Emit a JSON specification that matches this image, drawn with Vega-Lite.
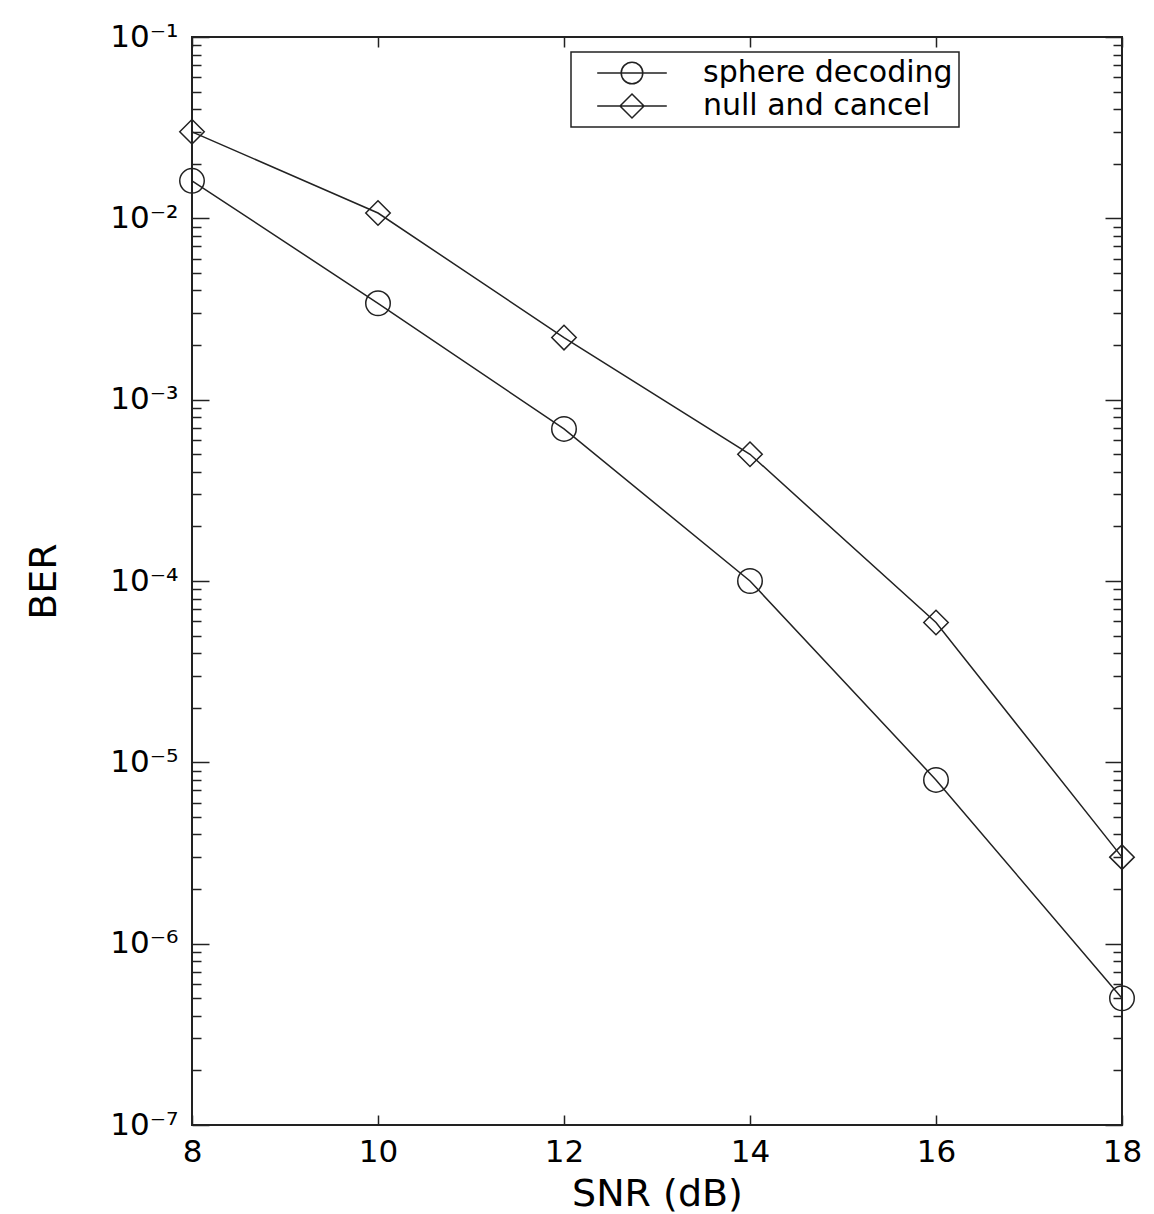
{
  "$schema": "https://vega.github.io/schema/vega-lite/v6.json",
  "autosize": {"type": "none"},
  "width": 930,
  "height": 1088,
  "padding": {"left": 192, "top": 37, "right": 32, "bottom": 89},
  "background": "white",
  "config": {
    "font": "DejaVu Sans",
    "view": {"stroke": "#222222", "strokeWidth": 2},
    "legend": {"strokeWidth": 1.5},
    "axis": {"labelColor": "black", "titleColor": "black", "tickColor": "#222222", "tickWidth": 1.5, "grid": false, "labelFont": "DejaVu Sans", "titleFont": "DejaVu Sans", "titleFontWeight": "normal", "labelFlush": false, "labelOverlap": false}
  },
  "data": {
    "values": [
      {"snr": 8, "ber": 0.0161, "series": "sphere decoding"},
      {"snr": 10, "ber": 0.0034, "series": "sphere decoding"},
      {"snr": 12, "ber": 0.00069, "series": "sphere decoding"},
      {"snr": 14, "ber": 0.0001, "series": "sphere decoding"},
      {"snr": 16, "ber": 0.000008, "series": "sphere decoding"},
      {"snr": 18, "ber": 0.0000005, "series": "sphere decoding"},
      {"snr": 8, "ber": 0.030, "series": "null and cancel"},
      {"snr": 10, "ber": 0.0107, "series": "null and cancel"},
      {"snr": 12, "ber": 0.0022, "series": "null and cancel"},
      {"snr": 14, "ber": 0.0005, "series": "null and cancel"},
      {"snr": 16, "ber": 0.000059, "series": "null and cancel"},
      {"snr": 18, "ber": 0.000003, "series": "null and cancel"}
    ]
  },
  "resolve": {
    "scale": {"shape": "independent"},
    "legend": {"shape": "independent"},
    "axis": {"x": "independent", "y": "independent"}
  },
  "layer": [
    {
      "mark": {"type": "line", "color": "#222222", "strokeWidth": 1.5},
      "encoding": {
        "x": {"field": "snr", "type": "quantitative", "scale": {"domain": [8, 18], "nice": false, "zero": false},
          "axis": {"orient": "bottom", "values": [8, 10, 12, 14, 16, 18], "ticks": false, "domain": false, "labelFontSize": 31, "labelPadding": 12, "title": "SNR (dB)", "titleFontSize": 38, "titlePadding": 8}},
        "y": {"field": "ber", "type": "quantitative", "scale": {"type": "log", "domain": [1e-7, 0.1], "nice": false, "zero": false},
          "axis": {"orient": "left", "values": [1e-7, 1e-6, 1e-5, 1e-4, 1e-3, 1e-2, 1e-1], "ticks": false, "domain": false, "labelFontSize": 31, "labelPadding": 14,
            "labelExpr": "'10' + ['⁻⁷','⁻⁶','⁻⁵','⁻⁴','⁻³','⁻²','⁻¹'][round(log(datum.value)/LN10) + 7]",
            "title": "BER", "titleFontSize": 38, "titlePadding": 46}},
        "detail": {"field": "series"}
      }
    },
    {
      "mark": {"type": "point", "filled": false, "stroke": "#222222", "strokeWidth": 1.5, "size": 600, "opacity": 1},
      "encoding": {
        "x": {"field": "snr", "type": "quantitative",
          "axis": {"orient": "bottom", "values": [8, 10, 12, 14, 16, 18], "offset": -10, "tickSize": 10, "labels": false, "domain": false, "title": null}},
        "y": {"field": "ber", "type": "quantitative",
          "axis": {"orient": "left", "values": [1e-7, 1e-6, 1e-5, 1e-4, 1e-3, 1e-2, 1e-1], "offset": -17, "tickSize": 17, "labels": false, "domain": false, "title": null}},
        "shape": {"field": "series", "type": "nominal", "scale": {"domain": ["sphere decoding", "null and cancel"], "range": ["circle", "diamond"]}, "legend": null}
      }
    },
    {
      "mark": {"type": "point", "filled": false, "stroke": "#222222", "strokeWidth": 1.5, "opacity": 0},
      "encoding": {
        "x": {"field": "snr", "type": "quantitative",
          "axis": {"orient": "top", "values": [8, 10, 12, 14, 16, 18], "offset": -10, "tickSize": 10, "labels": false, "domain": false, "title": null}},
        "y": {"field": "ber", "type": "quantitative",
          "axis": {"orient": "left", "values": [2e-7,3e-7,4e-7,5e-7,6e-7,7e-7,8e-7,9e-7,2e-6,3e-6,4e-6,5e-6,6e-6,7e-6,8e-6,9e-6,2e-5,3e-5,4e-5,5e-5,6e-5,7e-5,8e-5,9e-5,2e-4,3e-4,4e-4,5e-4,6e-4,7e-4,8e-4,9e-4,2e-3,3e-3,4e-3,5e-3,6e-3,7e-3,8e-3,9e-3,2e-2,3e-2,4e-2,5e-2,6e-2,7e-2,8e-2,9e-2], "offset": -9, "tickSize": 9, "labels": false, "domain": false, "title": null}},
        "shape": {"field": "series", "type": "nominal",
          "scale": {"domain": ["sphere decoding", "null and cancel"], "range": ["M-2.9,0L2.9,0M-0.9,0A0.9,0.9,0,1,1,0.9,0A0.9,0.9,0,1,1,-0.9,0Z", "M-2.9,0L2.9,0M-1,0L0,-1L1,0L0,1Z"]},
          "legend": {"title": null, "orient": "none", "legendX": 379, "legendY": 15, "strokeColor": "#222222", "padding": 6, "symbolSize": 576, "symbolOffset": 40, "labelOffset": 56, "symbolOpacity": 1, "symbolStrokeColor": "#222222", "symbolFillColor": "transparent", "symbolStrokeWidth": 1.5, "labelFontSize": 30, "labelFont": "DejaVu Sans", "labelColor": "black", "rowPadding": 3, "labelLimit": 600}}
      }
    },
    {
      "mark": {"type": "point", "opacity": 0},
      "encoding": {
        "x": {"field": "snr", "type": "quantitative", "axis": null},
        "y": {"field": "ber", "type": "quantitative",
          "axis": {"orient": "right", "values": [1e-7, 1e-6, 1e-5, 1e-4, 1e-3, 1e-2, 1e-1], "offset": -17, "tickSize": 17, "labels": false, "domain": false, "title": null}}
      }
    },
    {
      "mark": {"type": "point", "opacity": 0},
      "encoding": {
        "x": {"field": "snr", "type": "quantitative", "axis": null},
        "y": {"field": "ber", "type": "quantitative",
          "axis": {"orient": "right", "values": [2e-7,3e-7,4e-7,5e-7,6e-7,7e-7,8e-7,9e-7,2e-6,3e-6,4e-6,5e-6,6e-6,7e-6,8e-6,9e-6,2e-5,3e-5,4e-5,5e-5,6e-5,7e-5,8e-5,9e-5,2e-4,3e-4,4e-4,5e-4,6e-4,7e-4,8e-4,9e-4,2e-3,3e-3,4e-3,5e-3,6e-3,7e-3,8e-3,9e-3,2e-2,3e-2,4e-2,5e-2,6e-2,7e-2,8e-2,9e-2], "offset": -9, "tickSize": 9, "labels": false, "domain": false, "title": null}}
      }
    }
  ]
}
